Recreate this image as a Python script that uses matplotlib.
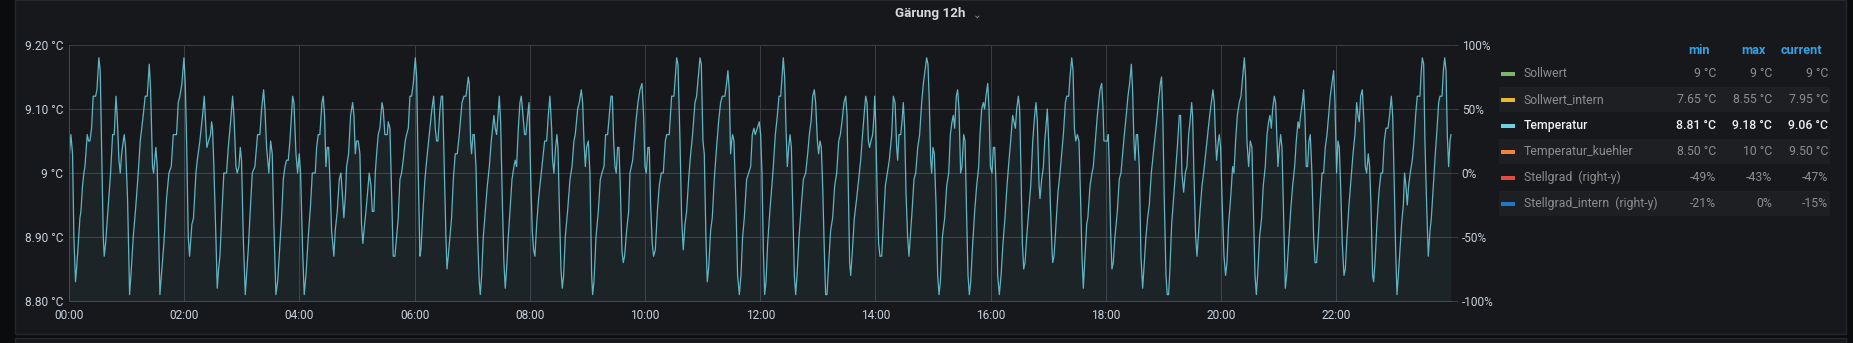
import matplotlib
matplotlib.use("Agg")
import matplotlib.pyplot as plt
from matplotlib.patches import Rectangle

plt.rcParams['font.family'] = ['Roboto', 'DejaVu Sans']

W, H = 1853, 343

# Temperatur series (minutes since 00:00, degC)
minutes = [
    0.0, 2.0, 3.7, 5.1, 6.8, 7.9, 9.6, 11.4, 12.4, 14.1, 15.5, 16.6, 19.0, 20.4, 21.8, 23.5, 25.2, 27.7, 29.1, 31.1,
    32.5, 33.9, 35.7, 36.7, 38.1, 40.9, 43.3, 45.4, 47.1, 48.9, 50.2, 52.0, 53.4, 54.8, 56.5, 57.5, 58.9, 61.0, 63.1,
    64.5, 66.9, 69.7, 72.1, 74.2, 77.3, 79.4, 81.5, 83.6, 85.0, 87.0, 88.1, 90.5, 91.9, 94.7, 96.8, 98.8, 101.6, 104.1,
    106.5, 108.6, 112.0, 113.8, 115.5, 117.6, 119.7, 121.1, 122.5, 124.2, 125.6, 127.0, 128.0, 129.7, 132.2, 133.6,
    136.3, 139.1, 140.9, 141.9, 143.6, 145.4, 147.4, 148.5, 149.5, 150.9, 153.0, 154.4, 155.8, 157.2, 159.3, 161.3,
    164.1, 165.9, 168.3, 170.4, 171.8, 173.9, 175.2, 177.0, 178.4, 179.7, 181.5, 183.6, 184.9, 186.7, 188.4, 190.9,
    193.6, 196.4, 198.8, 200.6, 202.7, 204.1, 205.8, 208.2, 210.0, 211.7, 213.4, 215.5, 217.3, 219.7, 221.4, 223.2,
    224.9, 226.6, 228.4, 230.1, 232.9, 234.3, 236.4, 238.1, 239.8, 241.2, 243.3, 245.0, 246.8, 249.2, 251.6, 253.4,
    256.5, 257.9, 259.6, 261.3, 263.4, 264.8, 266.2, 267.6, 269.0, 270.4, 271.8, 273.5, 275.9, 277.3, 279.4, 281.5,
    283.2, 284.6, 286.3, 288.1, 289.1, 291.2, 293.3, 295.4, 296.8, 298.2, 299.5, 301.3, 303.0, 304.7, 306.1, 307.9,
    309.3, 311.0, 312.7, 314.5, 315.9, 317.6, 319.0, 320.4, 322.1, 323.8, 326.0, 327.3, 329.0, 331.5, 332.5, 334.3,
    336.3, 337.7, 339.5, 341.2, 342.9, 344.7, 346.4, 348.1, 350.2, 351.6, 353.4, 355.1, 356.8, 358.6, 360.7,
    362.1, 363.8, 365.5, 366.6, 368.3, 370.7, 373.2, 375.9, 378.0, 379.8, 381.5, 382.9, 384.3, 386.4, 387.8, 389.1,
    390.9, 392.6, 393.7, 395.0, 396.8, 398.5, 400.3, 402.3, 404.4, 406.5, 409.3, 411.4, 413.5, 415.9, 416.9, 418.3,
    419.3, 420.7, 422.1, 423.9, 425.6, 427.3, 428.4, 429.8, 431.5, 433.6, 435.7, 437.8, 439.8, 442.6, 444.0, 445.4,
    446.8, 448.2, 449.6, 451.3, 453.0, 454.4, 455.8, 457.5, 459.3, 461.4, 463.4, 464.8, 466.2, 468.0, 469.7, 471.1,
    472.8, 474.6, 475.9, 477.7, 479.1, 480.8, 482.5, 483.9, 485.3, 487.1, 489.1, 491.2, 493.3, 495.4, 497.5, 499.2,
    500.9, 502.7, 503.7, 505.1, 506.8, 508.2, 509.3, 510.7, 512.4, 513.8, 515.2, 516.9, 519.3, 521.8, 523.9, 525.9,
    527.3, 529.8, 531.5, 533.6, 535.0, 536.4, 537.8, 539.1, 540.9, 542.6, 544.4, 545.4, 546.8, 548.9, 551.3, 553.4,
    555.1, 557.2, 558.9, 561.0, 562.7, 564.5, 565.9, 567.3, 568.7, 570.0, 571.4, 572.8, 574.2, 575.9, 577.3, 578.7,
    580.8, 582.9, 584.3, 585.7, 587.1, 588.8, 590.5, 592.6, 594.7, 596.8, 598.5, 599.9, 601.3, 603.0, 604.4, 605.8,
    607.5, 608.9, 610.7, 612.8, 614.8, 616.9, 619.0, 621.1, 622.5, 625.2, 627.7, 630.1, 631.5, 632.9, 634.3, 636.4,
    638.1, 639.8, 641.6, 643.3, 645.4, 647.5, 649.5, 652.0, 653.7, 655.5, 657.2, 658.6, 660.3, 661.7, 663.4, 664.8,
    666.2, 668.3, 670.0, 672.1, 674.5, 676.6, 678.7, 680.5, 683.2, 684.9, 686.3, 687.7, 689.1, 690.2, 691.2, 692.6,
    694.7, 696.4, 698.2, 699.9, 701.6, 703.4, 705.8, 707.9, 710.0, 711.7, 713.4, 714.8, 716.9, 719.0,
    720.4, 721.8, 723.2, 724.6, 726.0, 727.7, 729.5, 731.5, 733.6, 735.7, 737.8, 739.5, 741.3, 742.6, 744.0, 745.4,
    746.8, 748.2, 749.6, 751.0, 752.4, 753.8, 755.5, 756.9, 758.3, 760.4, 762.8, 764.9, 767.3, 769.4, 771.1, 772.9,
    774.6, 776.3, 777.7, 779.5, 780.8, 782.2, 783.6, 785.0, 786.7, 788.1, 789.5, 791.3, 793.3, 795.4, 797.5, 799.6,
    801.7, 803.4, 805.1, 807.2, 809.0, 810.4, 812.1, 813.1, 814.2, 815.6, 818.0, 820.4, 822.5, 824.6, 826.0, 828.1,
    829.8, 831.2, 832.6, 833.9, 835.3, 837.1, 838.5, 839.2, 840.2, 841.9, 843.3, 844.7, 846.5, 848.2, 850.3, 852.4,
    854.4, 856.9, 858.6, 860.4, 862.1, 863.1, 864.5, 866.3, 867.6, 869.0, 870.4, 871.8, 873.5, 874.9, 876.3, 878.1,
    880.1, 881.9, 884.0, 886.0, 888.1, 889.9, 891.6, 893.3, 894.7, 896.1, 897.5, 898.5, 899.9, 901.3, 903.1, 904.8,
    906.2, 907.6, 909.7, 912.1, 914.2, 916.3, 918.0, 919.7, 921.1, 922.5, 924.2, 925.6, 927.0, 928.7, 930.1, 931.9,
    933.3, 935.0, 936.4, 937.8, 939.2, 940.9, 943.3, 945.4, 947.5, 948.9, 950.6, 952.4, 953.7, 955.1, 956.9, 958.3,
    959.7, 961.4, 962.8, 964.2, 965.6, 967.3, 969.0, 970.8, 972.8, 974.9, 977.0, 979.1, 980.8, 982.9, 984.3, 985.7,
    987.1, 988.8, 990.2, 991.6, 993.0, 994.4, 995.8, 997.5, 999.6, 1001.7, 1003.8, 1005.8, 1007.2, 1008.6, 1010.4,
    1011.4, 1013.1, 1014.9, 1016.3, 1018.0, 1019.0, 1020.4, 1022.2, 1023.9, 1024.6, 1026.0, 1028.1, 1030.1, 1032.2,
    1033.9, 1035.7, 1037.8, 1039.2, 1041.3, 1042.6, 1044.4, 1045.8, 1047.2, 1048.6, 1050.3, 1052.0, 1053.8, 1055.1,
    1056.5, 1058.3, 1060.0, 1061.2, 1063.5, 1065.5, 1066.9, 1069.0, 1071.1,
    1073.8, 1075.6, 1077.0, 1078.0, 1079.7, 1081.5, 1082.5, 1083.5, 1084.9, 1086.3, 1087.7, 1089.4, 1091.9, 1093.9,
    1095.7, 1097.4, 1099.2, 1101.2, 1103.0, 1104.7, 1106.5, 1107.8, 1109.2, 1110.3, 1111.7, 1113.0, 1114.8, 1116.5,
    1118.3, 1119.6, 1121.7, 1123.5, 1125.2, 1127.3, 1129.4, 1131.5, 1133.5, 1135.3, 1136.7, 1138.0, 1139.4, 1140.8,
    1142.6, 1143.9, 1145.3, 1146.7, 1148.5, 1150.5, 1152.6, 1154.4, 1156.5, 1157.8, 1159.2, 1161.0, 1162.7, 1164.4,
    1166.2, 1167.6, 1169.3, 1170.3, 1171.7, 1173.5, 1174.9, 1176.2, 1178.0, 1180.1, 1181.8, 1183.9, 1186.0, 1188.1,
    1189.8, 1191.5, 1192.9, 1194.3, 1195.3, 1197.1, 1198.1, 1199.5, 1201.2, 1203.0, 1204.7, 1206.1, 1207.8, 1209.9,
    1212.0, 1213.4, 1215.1, 1216.9, 1218.9, 1220.7, 1222.4, 1224.2, 1225.5, 1226.9, 1228.7, 1230.4, 1232.1, 1233.5,
    1235.3, 1236.7, 1238.0, 1240.1, 1242.2, 1243.9, 1246.0, 1247.8, 1249.5, 1250.9, 1252.3, 1253.7, 1255.4, 1256.8,
    1258.2, 1259.2, 1260.6, 1262.0, 1263.4, 1265.1, 1266.9, 1268.3, 1270.3, 1272.4, 1274.5, 1276.6, 1278.3, 1280.1,
    1281.4, 1282.8, 1284.6, 1285.9, 1287.3, 1288.7, 1290.1, 1291.5, 1292.9, 1294.6, 1296.4, 1297.8, 1299.5, 1301.2,
    1303.0, 1305.1, 1306.8, 1308.5, 1310.3, 1312.0, 1313.7, 1315.5, 1317.2, 1318.6, 1320.3, 1321.7, 1323.1, 1324.5,
    1326.2, 1328.0, 1329.4, 1331.1, 1333.2, 1335.3, 1337.4, 1339.4, 1341.2, 1342.6, 1343.9, 1345.3, 1347.1, 1348.8,
    1350.2, 1351.6, 1353.3, 1354.7, 1356.1, 1357.8, 1358.9, 1360.3, 1362.3, 1364.4, 1366.5, 1368.2, 1370.0, 1371.7,
    1373.8, 1375.5, 1377.3, 1378.7, 1380.1, 1381.8, 1383.2, 1384.6, 1386.3, 1388.0, 1389.8, 1391.1, 1392.5, 1393.9,
    1395.3, 1397.0, 1399.1, 1400.9, 1402.6, 1404.3, 1407.1, 1408.5, 1409.6, 1411.0, 1412.3, 1414.1, 1415.8, 1417.6,
    1419.0, 1421.0, 1423.1, 1424.5, 1426.6, 1428.0, 1430.1, 1431.5, 1432.9, 1434.3, 1435.6, 1437.0, 1438.4, 1439.4,
]
temps = [
    9.02, 9.06, 9.03, 8.90, 8.83, 8.85, 8.89, 8.93, 8.94, 8.98, 9.00, 9.01, 9.06, 9.05, 9.05, 9.07, 9.12, 9.12, 9.13, 9.18,
    9.16, 9.05, 8.90, 8.87, 8.89, 8.95, 9.00, 9.06, 9.06, 9.12, 9.09, 9.02, 9.00, 9.03, 9.05, 9.06, 9.04, 8.96, 8.81,
    8.84, 8.90, 8.95, 9.00, 9.05, 9.09, 9.12, 9.12, 9.17, 9.13, 9.01, 9.00, 9.04, 9.01, 8.81, 8.85, 8.89, 8.96, 9.00,
    9.01, 9.06, 9.06, 9.11, 9.12, 9.14, 9.18, 9.14, 9.05, 8.90, 8.87, 8.90, 8.92, 8.93, 9.00, 9.02,
    9.05, 9.09, 9.12, 9.09, 9.04, 9.05, 9.06, 9.08, 9.07, 9.01, 8.90, 8.82, 8.85, 8.87, 8.94, 9.00,
    9.00, 9.04, 9.08, 9.12, 9.09, 9.01, 9.00, 9.01, 9.04, 9.02, 8.90, 8.81, 8.84, 8.88, 8.93, 9.00,
    9.01, 9.06, 9.06, 9.10, 9.13, 9.10, 9.04, 9.00, 9.05, 9.03, 8.92, 8.81, 8.83, 8.89, 8.93, 8.99,
    9.01, 9.02, 9.02, 9.05, 9.12, 9.11, 9.03, 9.00, 9.03, 9.00, 8.88, 8.81, 8.84, 8.90, 8.95, 9.00,
    9.00, 9.04, 9.06, 9.06, 9.11, 9.12, 9.09, 9.01, 9.04, 9.04, 8.99, 8.91, 8.87, 8.91, 8.94, 8.99,
    9.00, 8.97, 8.93, 8.97, 9.01, 9.03, 9.09, 9.11, 9.09, 9.03, 9.05, 9.05, 9.03, 8.92, 8.89, 8.92,
    8.94, 8.97, 9.00, 8.98, 8.94, 8.94, 9.00, 9.03, 9.06, 9.07, 9.11, 9.10, 9.06, 9.06, 9.08, 9.07,
    8.95, 8.87, 8.87, 8.90, 8.93, 8.99, 9.00, 9.02, 9.05, 9.06, 9.07, 9.12, 9.12, 9.14, 9.18,
    9.15, 9.00, 8.87, 8.88, 8.93, 8.99, 9.03, 9.07, 9.10, 9.12, 9.07, 9.05, 9.05, 9.10, 9.12, 9.12,
    9.01, 8.90, 8.85, 8.87, 8.90, 8.93, 8.99, 9.03, 9.03, 9.06, 9.11, 9.12, 9.12, 9.15, 9.14, 9.05,
    9.03, 9.06, 9.06, 9.01, 8.90, 8.83, 8.81, 8.84, 8.90, 8.94, 8.98, 9.01, 9.05, 9.09, 9.07, 9.06,
    9.09, 9.12, 9.08, 8.96, 8.86, 8.82, 8.85, 8.90, 8.94, 8.99, 9.01, 9.02, 9.01, 9.07, 9.11, 9.12,
    9.09, 9.06, 9.06, 9.09, 9.11, 9.00, 8.91, 8.88, 8.87, 8.92, 8.96, 8.99, 9.02, 9.05, 9.05, 9.09,
    9.12, 9.07, 9.02, 9.00, 9.04, 9.06, 9.04, 8.95, 8.85, 8.82, 8.84, 8.90, 8.94, 8.99, 9.01, 9.05,
    9.06, 9.10, 9.11, 9.13, 9.11, 9.05, 9.01, 9.04, 9.05, 9.00, 8.84, 8.81, 8.83, 8.90, 8.94, 8.99,
    9.00, 9.01, 9.06, 9.06, 9.09, 9.12, 9.12, 9.05, 9.01, 9.00, 9.04, 9.04, 8.98, 8.88, 8.86, 8.87,
    8.91, 8.94, 9.00, 9.01, 9.02, 9.05, 9.08, 9.11, 9.13, 9.14, 9.09, 9.01, 9.00, 9.04, 9.04, 8.95,
    8.89, 8.87, 8.88, 8.94, 8.98, 9.00, 9.00, 9.05, 9.06, 9.06, 9.12, 9.12, 9.15, 9.18, 9.17, 9.05,
    8.93, 8.88, 8.92, 8.94, 8.99, 9.03, 9.06, 9.11, 9.12, 9.15, 9.18, 9.17, 9.05, 9.03, 8.90, 8.83,
    8.85, 8.91, 8.93, 8.99, 9.04, 9.08, 9.11, 9.12, 9.12, 9.14, 9.16, 9.13, 9.03, 9.05, 9.06, 9.05,
    8.95, 8.84, 8.81, 8.84, 8.90, 8.93, 8.99, 9.00, 9.01, 9.06, 9.07, 9.06, 9.07, 9.08,
    9.06, 9.00, 8.88, 8.81, 8.83, 8.89, 8.93, 8.97, 9.01, 9.06, 9.09, 9.12, 9.12, 9.15, 9.18, 9.15,
    9.07, 9.01, 9.04, 9.06, 9.04, 8.95, 8.84, 8.81, 8.84, 8.90, 8.95, 8.99, 9.00, 9.03, 9.06, 9.08,
    9.12, 9.13, 9.11, 9.05, 9.03, 9.05, 9.04, 8.98, 8.88, 8.81, 8.81, 8.86, 8.91, 8.93, 8.98, 9.00,
    9.05, 9.06, 9.08, 9.11, 9.12, 9.09, 8.94, 8.86, 8.84, 8.87, 8.93, 8.96, 8.99, 9.02, 9.05, 9.09,
    9.12, 9.11, 9.05, 9.04, 9.05, 9.06, 9.09, 9.12, 9.08, 8.96, 8.89, 8.87, 8.87, 8.92, 8.98, 9.00,
    9.02, 9.06, 9.12, 9.11, 9.04, 9.02, 9.06, 9.06, 9.08, 9.11, 9.07, 8.97, 8.90, 8.87, 8.90, 8.94,
    8.99, 9.00, 9.04, 9.06, 9.11, 9.14, 9.16, 9.18, 9.17, 9.11, 9.02, 9.00, 9.04, 9.03, 8.95, 8.84,
    8.81, 8.83, 8.90, 8.93, 8.98, 9.00, 9.06, 9.08, 9.09, 9.07, 9.12, 9.13, 9.10, 9.00, 9.01, 9.06,
    9.05, 8.93, 8.84, 8.81, 8.83, 8.88, 8.94, 8.98, 9.01, 9.06, 9.10, 9.11, 9.10, 9.12, 9.14, 9.10,
    9.01, 9.00, 9.04, 9.04, 8.98, 8.84, 8.81, 8.84, 8.89, 8.93, 8.98, 9.02, 9.05, 9.09, 9.08, 9.07,
    9.10, 9.12, 9.10, 9.00, 8.89, 8.85, 8.86, 8.90, 8.94, 8.98, 9.05, 9.09, 9.11, 9.08, 8.98,
    8.96, 8.99, 9.01, 9.05, 9.08, 9.10, 9.05, 8.95, 8.88, 8.86, 8.87, 8.92, 8.97, 9.00,
    9.03, 9.06, 9.11, 9.12, 9.12, 9.15, 9.18, 9.16, 9.07, 9.05, 9.06, 9.05, 8.95, 8.87,
    8.82, 8.87, 8.92, 8.93, 8.98, 9.00, 9.01, 9.05, 9.09,
    9.13, 9.14, 9.10, 9.05, 9.05, 9.05, 9.06, 9.01, 8.91, 8.85, 8.86, 8.90, 8.94, 8.99,
    9.00, 9.03, 9.06, 9.09, 9.12, 9.14, 9.17, 9.13, 9.05, 9.02, 9.06, 9.06, 9.01, 8.87,
    8.82, 8.85, 8.90, 8.93, 8.95, 9.00, 9.03, 9.06, 9.09, 9.12, 9.14, 9.15, 9.08, 8.96,
    8.84, 8.81, 8.81, 8.85, 8.92, 8.96, 9.00, 9.04, 9.09, 9.09, 9.00, 8.97, 9.00, 9.01,
    9.06, 9.08, 9.11, 9.09, 9.00, 8.90, 8.87, 8.90, 8.94, 8.98, 9.00, 9.03, 9.06, 9.09,
    9.11, 9.13, 9.11, 9.05, 9.02, 9.05, 9.06, 9.04, 8.95, 8.87, 8.84, 8.86, 8.92, 8.96,
    9.01, 9.00, 9.05, 9.09, 9.11, 9.12, 9.15, 9.18, 9.15, 9.05, 9.01, 9.05, 9.04, 8.95,
    8.84, 8.81, 8.84, 8.90, 8.93, 8.98, 9.01, 9.06, 9.08, 9.09, 9.07, 9.10, 9.12, 9.11,
    9.05, 9.01, 9.04, 9.06, 9.04, 8.93, 8.82, 8.84, 8.89, 8.94, 8.98, 9.01, 9.05, 9.08,
    9.07, 9.09, 9.11, 9.13, 9.09, 9.01, 9.01, 9.05, 9.06, 9.00, 8.90, 8.86, 8.86, 8.90,
    8.95, 9.00, 9.00, 9.04, 9.06, 9.09, 9.12, 9.14, 9.16, 9.11, 9.00, 9.05, 9.04, 8.98,
    8.89, 8.84, 8.85, 8.90, 8.95, 8.99, 9.03, 9.06, 9.11, 9.09, 9.08, 9.12, 9.13, 9.08,
    9.01, 9.00, 9.03, 9.01, 8.95, 8.84, 8.83, 8.86, 8.92, 8.97, 9.00, 9.00, 9.05, 9.07,
    9.07, 9.09, 9.12, 9.09, 9.00, 8.88, 8.81, 8.84, 8.88, 8.92, 8.95, 9.00, 8.98, 8.95,
    8.98, 9.00, 9.02, 9.05, 9.09, 9.12, 9.12, 9.16, 9.18, 9.17, 9.05, 8.95, 8.87, 8.91,
    8.93, 8.98, 9.03, 9.06, 9.11, 9.12, 9.12, 9.16, 9.18, 9.16, 9.06, 9.01, 9.05, 9.06,
]

x_ticks = [0, 120, 240, 360, 480, 600, 720, 840, 960, 1080, 1200, 1320]
x_labels = ["00:00", "02:00", "04:00", "06:00", "08:00", "10:00", "12:00",
            "14:00", "16:00", "18:00", "20:00", "22:00"]
y_ticks = [8.80, 8.90, 9.00, 9.10, 9.20]
y_labels = ["8.80 °C", "8.90 °C", "9 °C", "9.10 °C", "9.20 °C"]
y2_ticks = [-100, -50, 0, 50, 100]
y2_labels = ["-100%", "-50%", "0%", "50%", "100%"]

legend_names = ["Sollwert", "Sollwert_intern", "Temperatur", "Temperatur_kuehler",
                "Stellgrad  (right-y)", "Stellgrad_intern  (right-y)"]
legend_colors = ["#7EB26D", "#EAB839", "#6ED0E0", "#EF843C", "#E24D42", "#1F78C1"]
legend_min = ["9 °C", "7.65 °C", "8.81 °C", "8.50 °C", "-49%", "-21%"]
legend_max = ["9 °C", "8.55 °C", "9.18 °C", "10 °C", "-43%", "0%"]
legend_cur = ["9 °C", "7.95 °C", "9.06 °C", "9.50 °C", "-47%", "-15%"]
legend_active = "Temperatur"

# colours
page_bg = "#0b0c0e"
panel_bg = "#17181b"
stripe_bg = "#1e1f23"
grid_col = "#3a3c41"
text_col = "#c7d0d9"
dim_col = "#8e8e8e"
head_col = "#33a2e5"

def fx(x):
    return x / W

def fy(y):
    return 1 - y / H

fig = plt.figure(figsize=(W / 100, H / 100), dpi=100, facecolor=page_bg)

# panel backgrounds (drawn behind everything)
fig.patches.append(Rectangle((fx(15), fy(334)), fx(1846) - fx(15), fy(0) - fy(334),
                             transform=fig.transFigure, facecolor=panel_bg,
                             edgecolor="#25272b", linewidth=1, zorder=-10))
fig.patches.append(Rectangle((fx(15), fy(343)), fx(1846) - fx(15), fy(338) - fy(343),
                             transform=fig.transFigure, facecolor=panel_bg,
                             edgecolor="#25272b", linewidth=1, zorder=-10))

# plot area
left, right, top, bottom = 69, 1452, 45, 301
ax = fig.add_axes([fx(left), fy(bottom), fx(right) - fx(left), fy(top) - fy(bottom)])
ax.set_facecolor("none")

line_col = "#6ED0E0"
ax.fill_between(minutes, temps, 8.80, color=line_col, alpha=0.07, linewidth=0)
ax.plot(minutes, temps, color=line_col, linewidth=0.9, alpha=0.85)

ax.set_xlim(0, 1440.5)
ax.set_ylim(8.80, 9.20)
ax.set_xticks(x_ticks)
ax.set_xticklabels(x_labels)
ax.set_yticks(y_ticks)
ax.set_yticklabels(y_labels)
ax.grid(True, color=grid_col, linewidth=0.75)
ax.set_axisbelow(True)
ax.tick_params(axis='both', length=0, labelsize=8.6, labelcolor=text_col)
ax.tick_params(axis='x', pad=5.5)
ax.tick_params(axis='y', pad=4.3)
for s in ["top", "right"]:
    ax.spines[s].set_visible(False)
for s in ["left", "bottom"]:
    ax.spines[s].set_color("#45484d")
    ax.spines[s].set_linewidth(0.75)

ax2 = ax.twinx()
ax2.set_ylim(-100, 100)
ax2.set_yticks(y2_ticks)
ax2.set_yticklabels(y2_labels)
ax2.tick_params(axis='y', length=4, width=0.75, color=grid_col, pad=3,
                labelsize=8.6, labelcolor=text_col)
for s in ax2.spines.values():
    s.set_visible(False)

# title
fig.text(fx(930), fy(14), "Gärung 12h", ha="center", va="center",
         fontsize=9.6, fontweight="bold", color="#d8d9da")
fig.text(fx(977), fy(15), "⌄", ha="center", va="center",
         fontsize=7.5, color=dim_col, family=["DejaVu Sans"])

# legend table
for cx, head in [(1699, "min"), (1753, "max"), (1801, "current")]:
    fig.text(fx(cx), fy(50), head, ha="center", va="center",
             fontsize=9.2, fontweight="bold", color=head_col)

row_y0, row_step = 73.5, 26
for i, name in enumerate(legend_names):
    y = row_y0 + i * row_step
    if i % 2 == 1:
        fig.patches.append(Rectangle((fx(1499), fy(y + 12.5)), fx(1830) - fx(1499), 25 / H,
                                     transform=fig.transFigure, facecolor=stripe_bg,
                                     linewidth=0, zorder=-5))
    fig.patches.append(Rectangle((fx(1501), fy(y + 2)), fx(1515) - fx(1501), 4 / H,
                                 transform=fig.transFigure, facecolor=legend_colors[i],
                                 linewidth=0, zorder=1))
    active = name == legend_active
    col = "#eef1f5" if active else dim_col
    wt = "medium" if active else "normal"
    fig.text(fx(1524), fy(y), name, ha="left", va="center", fontsize=8.8, color=col, fontweight=wt)
    for rx, vals in [(1716, legend_min), (1772, legend_max), (1828, legend_cur)]:
        fig.text(fx(rx), fy(y), vals[i], ha="right", va="center", fontsize=8.8,
                 color=col, fontweight=wt)

fig.savefig("out.png", dpi=100, facecolor=fig.get_facecolor())
